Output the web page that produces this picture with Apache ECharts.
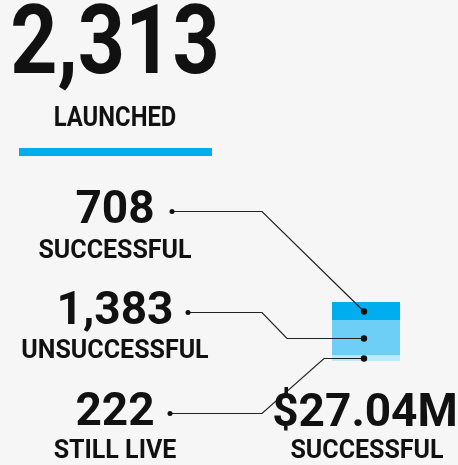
<!DOCTYPE html>
<html>
<head>
    <meta charset="utf-8" />
    <title>Launched projects</title>
    <script src="https://cdn.jsdelivr.net/npm/echarts@6/dist/echarts.min.js"></script>
    <style>
        html, body { margin: 0; padding: 0; background: #f6f6f6; }
        #main { width: 458px; height: 465px; }
    </style>
</head>
<body>
<div id="main"></div>
<script type="text/javascript">
    // data
    var categories = ['SUCCESSFUL', 'UNSUCCESSFUL', 'STILL LIVE'];
    var counts = [708, 1383, 222];
    var colors = ['#00aeef', '#6dcff6', '#bde8fb'];
    var totalLabel = 'LAUNCHED';
    var pledgedValue = '$27.04M';
    var pledgedLabel = 'SUCCESSFUL';

    var total = counts.reduce(function (a, b) { return a + b; }, 0);
    var fmt = function (v) { return v.toLocaleString('en-US'); };

    var numFont = 'Roboto, "Noto Sans", sans-serif';

    var chart = echarts.init(document.getElementById('main'));

    // stacked from the bottom: still live, unsuccessful, successful
    var series = [];
    for (var i = categories.length - 1; i >= 0; i--) {
        series.push({
            name: categories[i],
            type: 'bar',
            stack: 'all',
            barWidth: '100%',
            silent: true,
            itemStyle: { color: colors[i] },
            data: [counts[i]]
        });
    }

    chart.setOption({
        animation: false,
        backgroundColor: '#f6f6f6',
        grid: { left: 332, top: 302, width: 68, height: 59 },
        xAxis: { type: 'category', data: [totalLabel], show: false },
        yAxis: { type: 'value', min: 0, max: total, show: false },
        series: series
    });

    // leader lines and labels, bar ends come from the axes
    var centerX = chart.convertToPixel({ gridIndex: 0 }, [0, 0])[0] - 2;
    var labelY = [211, 312, 413];       // number rows
    var subY = [252, 352, 452];         // word rows
    var dotX = [172, 188, 170];
    var kneeX = 262;
    var knee2X = [null, 287, 324];

    var elements = [];
    var acc = total;
    for (var k = 0; k < categories.length; k++) {
        var mid = acc - counts[k] / 2;
        acc -= counts[k];
        var py = Math.round(chart.convertToPixel({ gridIndex: 0 }, [0, mid])[1]) + 0.5;
        var ly = labelY[k] + 0.5;
        var pts = [[dotX[k], ly], [kneeX, ly]];
        if (knee2X[k] !== null) pts.push([knee2X[k], py]);
        pts.push([centerX, py]);
        elements.push({
            type: 'polyline', silent: true, z: 100,
            shape: { points: pts },
            style: { stroke: '#222', lineWidth: 1.2, fill: null }
        });
        elements.push({ type: 'circle', z: 101, shape: { cx: dotX[k], cy: ly, r: 2.5 }, style: { fill: '#111' } });
        elements.push({ type: 'circle', z: 101, shape: { cx: centerX, cy: py, r: 3.2 }, style: { fill: '#111' } });
        elements.push({
            type: 'text', x: 115, y: labelY[k], z: 100,
            style: { text: fmt(counts[k]), font: 'bold 46px ' + numFont, fill: '#111', align: 'center', verticalAlign: 'middle' }
        });
        elements.push({
            type: 'text', x: 115, y: subY[k], z: 100,
            style: { text: categories[k], font: 'bold 25px ' + numFont, fill: '#111', align: 'center', verticalAlign: 'middle' }
        });
    }

    // header, condensed
    elements.push({
        type: 'text', x: 115, y: 49, scaleX: 0.85, z: 100,
        style: { text: fmt(total), font: 'bold 97px ' + numFont, fill: '#111', align: 'center', verticalAlign: 'middle' }
    });
    elements.push({
        type: 'text', x: 115, y: 119, scaleX: 0.85, z: 100,
        style: { text: totalLabel, font: 'bold 28px ' + numFont, fill: '#111', align: 'center', verticalAlign: 'middle' }
    });
    elements.push({
        type: 'rect', z: 100, shape: { x: 19, y: 148, width: 193, height: 8 }, style: { fill: '#00aeef' }
    });
    elements.push({
        type: 'text', x: 365, y: 414, z: 100,
        style: { text: pledgedValue, font: 'bold 46px ' + numFont, fill: '#111', align: 'center', verticalAlign: 'middle' }
    });
    elements.push({
        type: 'text', x: 367, y: 452, z: 100,
        style: { text: pledgedLabel, font: 'bold 25px ' + numFont, fill: '#111', align: 'center', verticalAlign: 'middle' }
    });

    chart.setOption({ graphic: { elements: elements } });
</script>
</body>
</html>
